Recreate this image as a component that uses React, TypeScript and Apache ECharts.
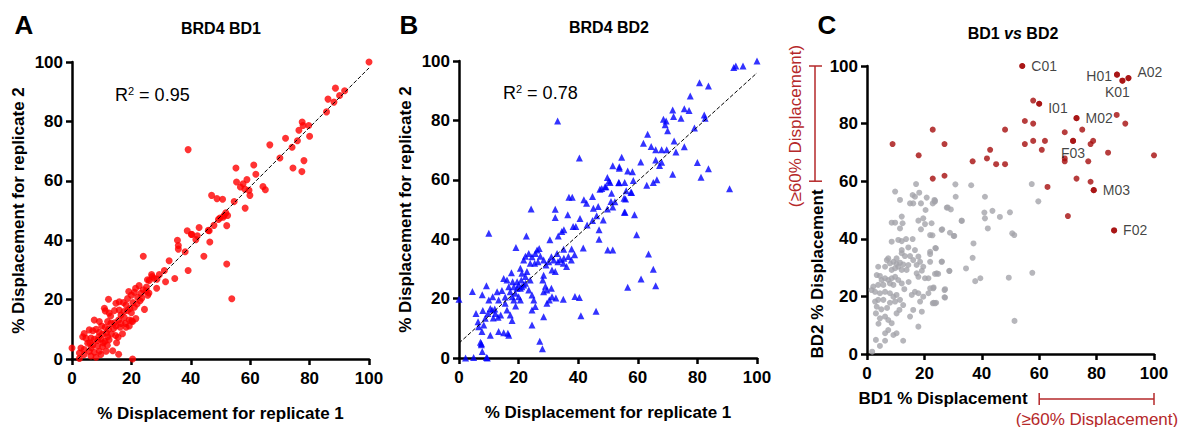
import React, { useEffect, useRef } from "react";
import * as echarts from "echarts";

// ---------- Panel A : BRD4 BD1, replicate 1 vs replicate 2 ----------
const bd1Points: number[][] = [
  [100,100],[88.7,91.2],[91.8,90.3],[90.1,88.7],[86.2,87.5],[88.2,86.5],[85.7,83.2],[77.5,79.8],[77.8,78.6],[76.4,77.0],
  [79.7,78.6],[80.0,75.0],[71.9,74.3],[75.9,73.5],[66.6,72.1],[74.1,71.3],[70.0,67.7],[78.1,66.8],[74.4,64.3],[77.4,63.1],
  [39.1,70.5],[55.2,64.3],[61.2,65.3],[61.9,62.2],[58.9,60.4],[55.4,59.6],[57.6,59.0],[56.7,57.9],[58.2,57.2],[59.6,56.8],
  [59.9,55.1],[64.3,58.1],[65.1,57.0],[58.3,50.8],[47.0,55.1],[48.8,54.0],[50.7,53.8],[54.6,53.0],[51.8,49.2],[51.2,48.3],
  [49.8,47.5],[52.4,48.3],[47.8,45.0],[52.1,44.9],[45.9,43.3],[42.8,44.3],[38.8,43.2],[40.2,41.9],[42.2,41.5],[41.7,40.2],
  [35.5,40.0],[35.8,38.2],[35.8,37.0],[38.1,36.1],[46.4,39.4],[44.4,34.6],[32.7,33.1],[52.1,32.0],[24.0,34.6],[39.1,29.8],
  [31.1,29.8],[29.4,28.4],[31.5,26.0],[34.6,27.1],[28.5,23.8],[53.8,20.3],[26.8,28.4],[25.4,26.7],[27.6,27.2],
  [49.3,47.0],[50.9,47.7],[46.2,43.2],[40.3,42.0],
  [27.0,27.8],[28.6,26.9],[26.0,26.4],[25.0,22.9],[25.5,21.5],[22.6,24.7],[24.0,23.3],[23.2,22.1],[21.4,23.8],[21.0,22.5],
  [20.0,21.5],[19.1,22.7],[18.7,20.4],[22.1,20.8],[22.9,19.6],[21.9,18.5],[21.0,17.4],[24.4,16.7],[12.3,20.1],[14.8,18.8],
  [15.9,19.3],[17.3,19.0],[18.2,18.2],[10.9,17.1],[11.2,16.2],[14.3,16.3],[15.9,16.5],[18.7,16.3],[20.0,15.6],[16.5,14.8],
  [17.6,14.0],[19.3,13.1],[20.4,12.6],[7.5,13.1],[9.2,12.6],[12.0,12.6],[13.1,12.0],[14.3,12.2],[14.8,11.1],[15.7,13.1],
  [10.0,11.1],[11.2,10.7],[12.3,10.0],[14.0,10.3],[16.2,10.7],[18.2,10.7],[19.3,11.1],[5.8,9.8],[7.0,9.5],[8.1,10.0],
  [9.2,9.0],[10.3,8.4],[11.6,8.8],[13.3,8.4],[14.7,7.9],[15.5,7.3],[4.1,8.6],[3.6,7.5],[4.7,7.0],[6.4,7.1],
  [7.5,6.6],[8.6,6.2],[9.7,6.7],[11.1,6.0],[12.5,6.5],[5.3,5.3],[7.0,4.7],[8.6,4.4],[10.3,4.2],[11.9,4.6],
  [3.0,3.7],[4.1,3.2],[5.8,2.6],[7.5,2.3],[9.2,2.6],[11.5,2.6],[13.7,2.8],[2.5,2.0],[4.1,1.5],[6.4,1.0],
  [8.1,0.6],[9.7,1.5],[0,3.7],[2.5,0.2],[15.7,1.6],[20.4,0],[25.1,24.2],[25.9,22.2],[21.5,13.6],[20.1,12.9],
  [17.0,8.5],[15.0,5.5],[12.0,7.5],[6.0,5.5],[18.0,12.0],[13.0,14.5],[16.5,12.0],[19.5,17.0],[9.0,7.5],[10.5,5.5],
  [6.5,3.8],[17.5,16.0],[23.5,20.5],[20.5,19.0],[12.5,15.5]
];
const bd1Fit: number[][] = [[2, 0], [100, 98]];
const bd1R2 = "0.95";

// ---------- Panel B : BRD4 BD2, replicate 1 vs replicate 2 ----------
const bd2Points: number[][] = [
  [100,100],[95.3,98.3],[92.9,98.3],[92.2,97.8],[80.7,92.7],[83.7,91.6],[77.6,88.2],[71.7,83.5],[72.0,81.3],[75.6,83.9],
  [77.2,83.3],[74.5,80.7],[68.6,80.4],[69.5,79.8],[69.2,78.5],[70.0,76.5],[79.0,77.4],[82.3,81.8],[82.6,80.7],[63.3,75.3],
  [61.9,72.3],[64.5,71.2],[66.0,70.1],[68.0,70.1],[69.7,70.1],[72.2,73.1],[72.8,69.4],[75.6,71.1],[66.0,66.7],[67.3,64.8],
  [68.0,65.9],[80.0,65.8],[81.2,60.9],[83.7,63.7],[71.7,61.9],[90.8,57.0],[54.6,67.6],[51.6,64.7],[53.8,64.4],[53.8,63.9],
  [53.6,59.1],[49.8,60.8],[50.7,59.1],[56.6,63.0],[58.2,62.7],[58.5,59.8],[63.0,58.2],[65.2,59.1],[66.4,60.0],[58.9,48.2],
  [59.6,41.5],[55.6,59.1],[56.1,56.3],[55.9,53.5],[55.7,49.1],[57.9,55.7],[51.2,55.5],[51.0,52.7],[51.6,50.8],[49.8,50.2],
  [49.3,57.7],[47.3,56.8],[48.4,46.5],[47.0,43.2],[47.0,40.0],[49.9,36.4],[51.6,36.4],[44.8,54.4],[45.1,50.4],[42.8,52.1],
  [41.9,53.3],[46.7,51.0],[46.2,47.9],[44.8,46.3],[43.0,44.8],[40.6,47.0],[40.4,67.3],[36.9,54.1],[38.0,54.1],[36.5,48.2],
  [38.3,44.3],[39.2,44.3],[35.2,43.2],[34.5,42.6],[33.3,41.1],[32.3,50.1],[32.3,47.3],[30.5,39.8],[37.8,36.7],[36.7,34.2],
  [35.2,33.6],[35.0,31.9],[36.1,30.8],[41.7,37.0],[38.8,34.8],[33.1,79.8],[24.2,50.2],[22.6,41.1],[10.0,42.0],[19.1,37.2],
  [38.9,20.7],[40.4,20.4],[40.9,14.2],[35.0,19.8],[46.0,15.7],[63.6,35.0],[65.2,29.9],[66.0,24.3],[61.1,26.6],[56.6,23.8],
  [32.5,20.2],[27.1,5.6],[28.0,3.1],[0,19.8],[2.2,0],[4.9,0.2],[7.8,2.2],[7.5,4.5],[7.2,5.3],[9.2,0.2],
  [9.5,0],[4.5,22.4],[7.8,21.3],[9.2,24.3],[50.3,59.6],[49.0,57.7],[47.9,57.1],[53.7,59.0],[57.7,55.8],[55.4,53.8],
  [52.3,52.6],[55.5,49.1],[61.0,66.0],
  [5.7,15.0],[6.4,12.2],[6.6,10.5],[7.7,8.9],[8.3,11.1],[8.8,13.4],[9.7,15.0],[10.5,16.7],[11.1,16.2],[12.2,15.0],
  [13.1,13.7],[10.5,7.7],[13.3,8.9],[15.0,8.5],[16.7,7.7],[16.4,8.3],[10.0,19.5],[11.3,20.6],[12.8,22.3],[14.4,22.7],
  [13.3,19.5],[15.5,18.4],[16.1,16.2],[17.2,14.5],[17.8,12.6],[15.0,26.8],[16.1,26.3],[17.6,28.7],[18.0,25.7],[18.4,24.0],
  [19.5,23.5],[18.9,21.8],[20.0,20.6],[20.6,19.5],[16.7,24.0],[17.2,22.3],[17.8,20.6],[18.4,19.5],[19.5,25.7],[20.0,24.6],
  [20.6,23.5],[21.1,24.0],[21.7,24.6],[20.9,26.3],[20.6,30.2],[21.7,33.0],[21.1,28.5],[22.3,27.4],[23.9,26.3],[22.3,34.3],
  [23.4,35.2],[24.5,34.1],[25.6,35.2],[26.2,36.4],[26.9,36.9],[27.3,34.3],[25.4,31.9],[26.5,32.4],[23.9,31.9],[22.8,29.1],
  [22.3,25.2],[23.4,22.9],[24.5,21.2],[25.1,19.5],[24.5,16.2],[25.6,17.3],[24.5,11.1],[28.4,27.9],[28.1,26.3],[29.0,24.2],
  [28.4,22.3],[29.5,22.9],[31.0,23.5],[31.2,20.6],[30.3,19.5],[28.4,13.9],[29.5,18.4],[28.4,33.0],[29.2,31.3],[30.1,32.4],
  [31.0,34.1],[31.8,33.0],[31.2,29.6],[32.3,29.1],[32.9,35.2],[33.2,32.4],[34.0,33.2],[35.1,36.6],[37.7,33.0],[7.5,4.9],
  [12.0,16.5],[14.0,14.5],[8.0,16.0],[11.5,13.5],[15.5,20.5],[19.0,17.5]
];
const bd2Fit: number[][] = [[0, 5], [100, 96]];
const bd2R2 = "0.78";

// ---------- Panel C : BD1 vs BD2 ----------
const cGrey: number[][] = [
  [57.4,59.0],[59.7,53.0],[57.6,28.2],[51.4,11.5],[36.3,58.6],[41.1,54.6],[40.9,49.1],[41.1,47.1],[43.7,49.7],[42.1,43.6],
  [46.3,47.6],[49.8,49.2],[50.6,41.9],[51.3,41.3],[37.1,38.4],[36.8,33.4],[34.5,29.7],[37.7,25.3],[39.5,26.3],[49.4,26.5],
  [30.8,58.9],[33.0,46.2],[30.2,41.0],[28.9,42.1],[27.8,50.8],[29.2,50.2],[26.2,43.3],[26.1,32.1],[28.7,28.8],[27.0,22.2],
  [27.0,19.7],[23.5,53.5],[23.6,52.9],[22.8,41.2],[23.8,36.8],[24.3,28.0],[23.2,23.1],[23.2,17.8],[24.1,17.8],[22.0,34.7],
  [17.1,59.0],[9.8,56.4],[11.5,53.5],[15.9,55.2],[16.7,54.6],[18.2,56.0],[15.0,52.3],[16.1,52.3],[18.8,52.3],[20.8,54.3],
  [22.9,52.3],[23.7,53.2],[20.4,50.0],[8.6,45.6],[9.8,45.6],[12.1,47.7],[12.4,45.4],[11.5,43.6],[17.9,46.3],[19.6,47.1],
  [20.2,45.1],[18.8,43.3],[22.5,45.4],[22.0,41.3],[26.0,43.1],[30.4,41.0],[28.1,50.9],[30.9,54.6],[33.0,46.3],
  [8.6,39.0],[10.9,39.6],[12.1,39.2],[13.6,39.9],[15.9,39.9],[14.4,37.0],[16.7,36.1],[12.1,36.1],[12.1,35.0],[13.2,34.0],
  [15.0,34.0],[16.1,32.6],[22.0,35.5],[24.0,36.7],[26.0,32.0],[22.0,32.0],[23.7,27.8],[24.8,27.8],[28.7,28.9],[20.2,26.3],
  [21.4,26.3],[17.9,33.8],[18.5,32.0],[17.3,30.9],[19.6,30.3],[19.1,28.9],[17.3,28.0],[17.9,26.8],
  [6.9,32.6],[8.0,31.5],[9.2,32.0],[10.3,31.3],[11.5,31.7],[12.6,31.1],[9.8,29.8],[10.9,30.3],[12.1,29.2],[8.6,29.2],
  [6.3,30.3],[7.4,33.2],[10.3,33.2],[14.4,30.9],[13.8,29.2],[3.9,30.3],
  [3.4,27.4],[4.5,27.1],[5.1,25.7],[6.3,26.3],[7.4,25.7],[8.6,26.3],[9.8,26.8],[10.9,25.7],[12.1,24.5],[9.2,24.0],
  [8.0,24.5],[5.7,24.0],[3.9,24.0],[2.2,23.4],[1.6,22.2],[2.8,21.6],[4.5,21.1],
  [6.3,21.6],[8.0,21.1],[9.2,19.9],[10.3,20.5],[11.5,18.8],[9.8,18.2],[8.0,17.8],[5.7,18.8],[3.9,18.8],[2.8,18.2],
  [15.6,20.5],[16.7,21.6],[17.9,21.1],[18.5,18.2],[19.1,14.7],[16.1,15.3],[15.0,13.0],[17.9,9.5],[12.6,17.0],[11.3,15.3],
  [10.3,14.1],[22.0,22.8],[23.1,22.8],[19.6,19.9],[21.4,21.1],[27.2,22.5],[27.2,19.6],[22.9,17.6],[23.7,17.6],
  [3.4,16.4],[3.1,14.1],[4.5,12.4],[6.3,13.0],[7.4,11.8],[8.6,10.7],[7.4,8.3],[9.2,6.6],[10.3,7.2],[6.3,7.2],
  [3.1,4.9],[6.3,4.6],[4.5,2.8],[12.6,4.6],[1.8,0.8],[5.0,15.5],[4.0,10.5],[13.0,22.5],[14.5,25.0],[7.0,16.0]
];
const cRed: number[][] = [
  [54.1,100],[87.1,97.0],[89.0,94.9],[91.1,95.8],[57.9,88.0],[60.0,86.9],[73.0,81.9],[87.0,83.0],[90.0,80.0],[55.0,80.9],
  [57.9,80.0],[48.1,77.9],[22.9,77.9],[68.9,77.0],[75.0,77.9],[8.9,72.9],[27.0,72.9],[55.0,72.9],[57.9,74.0],[62.0,74.0],
  [42.9,70.9],[60.9,70.9],[71.8,74.0],[77.9,72.9],[78.8,74.0],[84.0,69.9],[100,69.0],[18.0,69.0],[36.8,66.9],[41.8,67.9],
  [45.0,65.9],[48.1,65.9],[68.9,67.9],[68.9,66.9],[77.1,66.9],[22.9,60.9],[27.0,61.9],[73.0,60.9],[77.9,59.8],[79.0,56.9],
  [62.9,58.0],[70.0,47.9],[86.1,42.9]
];
// labelled compounds: [BD1, BD2, name, label position]
const cLabels: [number, number, string, string][] = [
  [54.1, 100, "C01", "right"],
  [87.1, 97.0, "H01", "left"],
  [91.1, 95.8, "A02", "right"],
  [89.0, 94.9, "K01", "bottom"],
  [60.0, 86.9, "I01", "right"],
  [73.0, 81.9, "M02", "right"],
  [71.8, 74.0, "F03", "bottom"],
  [79.0, 56.9, "M03", "right"],
  [86.1, 42.9, "F02", "right"],
];
const thresholdRange = [60, 100];

const FONT = "'Liberation Sans', Arial, Helvetica, sans-serif";

// grid geometry (pixels)
const GA = { left: 72, top: 62, width: 297, height: 297 };
const GB = { left: 459, top: 61, width: 298, height: 297 };
const GC = { left: 867, top: 66, width: 287, height: 288 };

function valueAxis(gridIndex: number, name?: string, isY?: boolean) {
  return {
    type: "value",
    gridIndex,
    min: 0,
    max: 100,
    interval: 20,
    name: name || "",
    nameLocation: "middle",
    nameGap: isY ? 45 : 46,
    nameTextStyle: { color: "#000", fontWeight: "bold", fontSize: 17, fontFamily: FONT },
    axisLine: { show: true, onZero: false, lineStyle: { color: "#000", width: 2.5 } },
    axisTick: { show: true, length: 6, lineStyle: { color: "#000", width: 2.5 } },
    axisLabel: { color: "#000", fontWeight: "bold", fontSize: 17, fontFamily: FONT, margin: isY ? 9 : 11 },
    splitLine: { show: false },
  };
}

export default function App() {
  const ref = useRef<HTMLDivElement>(null);
  useEffect(() => {
    if (!ref.current) return;
    const chart = echarts.init(ref.current, null, { renderer: "svg" });
    const red = "#b5282a";
    const cx = (v: number) => GC.left + (v / 100) * GC.width;
    const cy = (v: number) => GC.top + GC.height - (v / 100) * GC.height;

    const labelData = cLabels.map(([x, y, n, pos]) => {
      const off: Record<string, number[]> = {
        H01: [4, 1], A02: [0, -6], K01: [-5, -5], I01: [0, 4], F03: [0, -4],
      };
      return {
        value: [x, y],
        label: {
          show: true,
          formatter: n,
          position: pos,
          distance: 6,
          offset: off[n] || [0, 0],
          color: "#111",
          fontSize: 14,
          fontFamily: FONT,
        },
      };
    });

    const option: any = {
      animation: false,
      backgroundColor: "#fff",
      grid: [
        { ...GA, containLabel: false },
        { ...GB, containLabel: false },
        { ...GC, containLabel: false },
      ],
      xAxis: [
        valueAxis(0, "% Displacement for replicate 1"),
        valueAxis(1, "% Displacement for replicate 1"),
        valueAxis(2),
      ],
      yAxis: [
        valueAxis(0, "% Displacement for replicate 2", true),
        valueAxis(1, "% Displacement for replicate 2", true),
        valueAxis(2, "", true),
      ],
      series: [
        {
          type: "scatter", xAxisIndex: 0, yAxisIndex: 0, data: bd1Points,
          symbol: "circle", symbolSize: 7, itemStyle: { color: "#ff0000" }, clip: false, z: 3,
        },
        {
          type: "line", xAxisIndex: 0, yAxisIndex: 0, data: bd1Fit, symbol: "none",
          lineStyle: { color: "#000", width: 1, type: [4, 2] }, z: 4,
        },
        {
          type: "scatter", xAxisIndex: 1, yAxisIndex: 1, data: bd2Points,
          symbol: "triangle", symbolSize: 7, itemStyle: { color: "#0000ff" }, clip: false, z: 3,
        },
        {
          type: "line", xAxisIndex: 1, yAxisIndex: 1, data: bd2Fit, symbol: "none",
          lineStyle: { color: "#000", width: 1, type: [4, 2] }, z: 4,
        },
        {
          type: "scatter", xAxisIndex: 2, yAxisIndex: 2, data: cGrey,
          symbol: "circle", symbolSize: 6, itemStyle: { color: "#a4a4aa" }, clip: false, z: 3,
        },
        {
          type: "scatter", xAxisIndex: 2, yAxisIndex: 2, data: cRed,
          symbol: "circle", symbolSize: 6, itemStyle: { color: "#a50d0d" }, clip: false, z: 4,
        },
        {
          type: "scatter", xAxisIndex: 2, yAxisIndex: 2, data: labelData,
          symbol: "circle", symbolSize: 6, itemStyle: { color: "#a50d0d" }, clip: false, z: 5,
        },
      ],
      graphic: [
        // panel letters
        { type: "text", x: 24, y: 25, style: { text: "A", font: `bold 26px ${FONT}`, fill: "#000", align: "center", verticalAlign: "middle" } },
        { type: "text", x: 409, y: 25, style: { text: "B", font: `bold 26px ${FONT}`, fill: "#000", align: "center", verticalAlign: "middle" } },
        { type: "text", x: 827, y: 25, style: { text: "C", font: `bold 26px ${FONT}`, fill: "#000", align: "center", verticalAlign: "middle" } },
        // titles
        { type: "text", x: 221, y: 28, style: { text: "BRD4 BD1", font: `bold 16px ${FONT}`, fill: "#000", align: "center", verticalAlign: "middle" } },
        { type: "text", x: 609, y: 27, style: { text: "BRD4 BD2", font: `bold 16px ${FONT}`, fill: "#000", align: "center", verticalAlign: "middle" } },
        {
          type: "text", x: 1013, y: 33,
          style: {
            text: "{b|BD1 }{i|vs}{b| BD2}", align: "center", verticalAlign: "middle",
            rich: {
              b: { fontFamily: FONT, fontWeight: "bold", fontSize: 16, fill: "#000", color: "#000" },
              i: { fontFamily: FONT, fontWeight: "bold", fontStyle: "italic", fontSize: 16, fill: "#000", color: "#000" },
            },
          },
        },
        // R squared
        {
          type: "text", x: 115, y: 95,
          style: {
            text: "{r|R}{s|2}{r| = " + bd1R2 + "}", align: "left", verticalAlign: "middle",
            rich: {
              r: { fontFamily: FONT, fontSize: 18, color: "#000", fill: "#000" },
              s: { fontFamily: FONT, fontSize: 11, color: "#000", fill: "#000", verticalAlign: "top", padding: [0, 0, 8, 0] },
            },
          },
        },
        {
          type: "text", x: 503, y: 93,
          style: {
            text: "{r|R}{s|2}{r| = " + bd2R2 + "}", align: "left", verticalAlign: "middle",
            rich: {
              r: { fontFamily: FONT, fontSize: 18, color: "#000", fill: "#000" },
              s: { fontFamily: FONT, fontSize: 11, color: "#000", fill: "#000", verticalAlign: "top", padding: [0, 0, 8, 0] },
            },
          },
        },
        // panel C axis titles
        { type: "text", x: 943, y: 398, style: { text: "BD1 % Displacement", font: `bold 17px ${FONT}`, fill: "#000", align: "center", verticalAlign: "middle" } },
        { type: "text", x: 1097, y: 419, style: { text: "(≥60% Displacement)", font: `17px ${FONT}`, fill: red, align: "center", verticalAlign: "middle" } },
        { type: "text", x: 817, y: 274, rotation: Math.PI / 2, style: { text: "BD2 % Displacement", font: `bold 17px ${FONT}`, fill: "#000", align: "center", verticalAlign: "middle" } },
        { type: "text", x: 795, y: 126, rotation: Math.PI / 2, style: { text: "(≥60% Displacement)", font: `17px ${FONT}`, fill: red, align: "center", verticalAlign: "middle" } },
        // brackets for the >=60% range
        { type: "line", shape: { x1: 815, y1: cy(thresholdRange[1]), x2: 815, y2: cy(thresholdRange[0]) }, style: { stroke: red, lineWidth: 1.5 } },
        { type: "line", shape: { x1: 809, y1: cy(thresholdRange[1]), x2: 822, y2: cy(thresholdRange[1]) }, style: { stroke: red, lineWidth: 1.5 } },
        { type: "line", shape: { x1: 809, y1: cy(thresholdRange[0]), x2: 822, y2: cy(thresholdRange[0]) }, style: { stroke: red, lineWidth: 1.5 } },
        { type: "line", shape: { x1: cx(thresholdRange[0]), y1: 399, x2: cx(thresholdRange[1]), y2: 399 }, style: { stroke: red, lineWidth: 1.5 } },
        { type: "line", shape: { x1: cx(thresholdRange[0]), y1: 393, x2: cx(thresholdRange[0]), y2: 405 }, style: { stroke: red, lineWidth: 1.5 } },
        { type: "line", shape: { x1: cx(thresholdRange[1]), y1: 393, x2: cx(thresholdRange[1]), y2: 405 }, style: { stroke: red, lineWidth: 1.5 } },
      ],
    };
    chart.setOption(option);
    return () => chart.dispose();
  }, []);
  return (
    <div
      ref={ref}
      style={{ position: "absolute", left: 0, top: 0, width: 1180, height: 427, background: "#fff" }}
    />
  );
}
